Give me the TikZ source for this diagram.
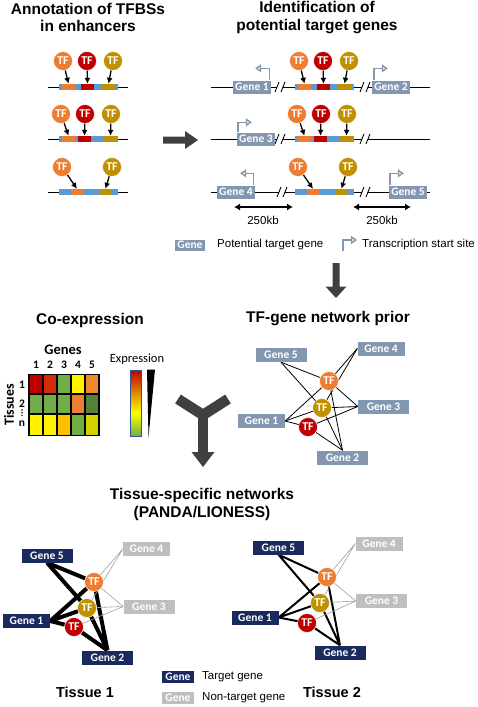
\documentclass[tikz,border=0pt]{standalone}
\usepackage{fontspec}
\setmainfont{Liberation Sans}
\newfontfamily\calibri{Carlito}
\usetikzlibrary{arrows.meta,backgrounds}

\definecolor{tforange}{HTML}{ED7D31}
\definecolor{tfred}{HTML}{C00000}
\definecolor{tfgold}{HTML}{BF9000}
\definecolor{enhblue}{HTML}{5B9BD5}
\definecolor{geneslate}{HTML}{8497B0}
\definecolor{genenavy}{HTML}{1A2A5E}
\definecolor{genegray}{HTML}{BFBFBF}
\definecolor{fatgray}{HTML}{404040}
\definecolor{hmred}{HTML}{D42A0C}
\definecolor{hmgreen}{HTML}{70AD47}
\definecolor{hmdkgreen}{HTML}{548235}
\definecolor{hmamber}{HTML}{FFC000}
\definecolor{hmolive}{HTML}{D2D200}
\definecolor{barblue}{HTML}{2F5597}

\begin{document}
\begin{tikzpicture}[x=1pt,y=-1pt,
  heading/.style={font=\bfseries\fontsize{15.5}{17.5}\selectfont,align=center},
  txt/.style={font=\fontsize{11.5}{13}\selectfont},
  cal/.style={font=\calibri\bfseries\fontsize{11.5}{12}\selectfont},
  tf/.style={circle,minimum size=19pt,inner sep=0pt,draw=white,line width=0.5pt,text=white,font=\calibri\bfseries\fontsize{12}{12}\selectfont},
  seg/.style={rectangle,minimum width=13pt,minimum height=6pt,inner sep=0pt},
  enh/.style={seg,fill=enhblue,minimum width=59pt},
  gene/.style={rectangle,fill=geneslate,text=white,inner sep=0pt,minimum width=38pt,minimum height=13pt,font=\calibri\bfseries\fontsize{11.5}{11.5}\selectfont},
  netgene/.style={gene,minimum width=51pt,minimum height=14pt},
  bind/.style={-{Latex[length=6pt,width=6pt]},line width=1.3pt},
  tss/.style={draw=geneslate,line width=1.4pt,-{Triangle[open,length=6pt,width=8pt]}},
  kbarrow/.style={{Latex[length=6pt,width=7pt]}-{Latex[length=6pt,width=7pt]},line width=1.3pt},
  fat/.style={fill=fatgray},
  brk/.pic={\fill [white] (-3,-2) rectangle (3,2); \draw [line width=0.9pt] (-5,5) -- (-1,-5) (1,5) -- (5,-5);},
  pedge/.style={line width=0.8pt},
  aedge/.style={line width=4pt},
  bedge/.style={line width=2pt},
  weakedge/.style={draw=gray!75,line width=0.6pt}
]
\useasboundingbox (0,0) rectangle (478,707);

% annotation of TFBSs
\node [heading] (h1) at (88,17.5) {Annotation of TFBSs\\in enhancers};
\draw (48,87) -- (128,87);
\node [enh] (le1) at (88.5,87) {};
\node [seg,fill=tforange] (le1o) at (68.5,87) {};
\node [seg,fill=tfred] (le1r) at (87.5,87) {};
\node [seg,fill=tfgold] (le1g) at (108.5,87) {};
\node [tf,fill=tforange] (lt1o) at (63,61) {TF};
\node [tf,fill=tfred] (lt1r) at (87,61) {TF};
\node [tf,fill=tfgold] (lt1g) at (113,61) {TF};
\draw [bind] (lt1o) -- (le1o.north);
\draw [bind] (lt1r) -- (le1r.north);
\draw [bind] (lt1g) -- (le1g.north);

\draw (48,139) -- (128,139);
\node [enh] (le2) at (88.5,139) {};
\node [seg,fill=tforange] (le2o) at (68.5,139) {};
\node [seg,fill=tfred] (le2r) at (84.5,139) {};
\node [seg,fill=tfgold] (le2g) at (110.5,139) {};
\node [tf,fill=tforange] (lt2o) at (61,114) {TF};
\node [tf,fill=tfred] (lt2r) at (85,114) {TF};
\node [tf,fill=tfgold] (lt2g) at (111,114) {TF};
\draw [bind] (lt2o) -- (le2o.north);
\draw [bind] (lt2r) -- (le2r.north);
\draw [bind] (lt2g) -- (le2g.north);

\draw (48,192) -- (128,192);
\node [enh] (le3) at (88.5,192) {};
\node [seg,fill=tforange,minimum width=12pt] (le3o) at (77,192) {};
\node [seg,fill=tfgold] (le3g) at (105.5,192) {};
\node [tf,fill=tforange] (lt3o) at (62,167) {TF};
\node [tf,fill=tfgold] (lt3g) at (112,167) {TF};
\draw [bind] (lt3o) -- (le3o.north);
\draw [bind] (lt3g) -- (le3g.north);

\fill [fat] (163,136.5) -- (185,136.5) -- (185,131) -- (198,140) -- (185,149) -- (185,143.5) -- (163,143.5) -- cycle;

% identification of target genes
\node [heading] (h2) at (317,17.5) {Identification of\\potential target genes};
\draw (211,87) -- (430,87);
\pic at (280,87) {brk};
\pic at (365,87) {brk};
\node [enh] (re1) at (324.5,87) {};
\node [seg,fill=tforange] (re1o) at (304.5,87) {};
\node [seg,fill=tfred] (re1r) at (323.5,87) {};
\node [seg,fill=tfgold] (re1g) at (344.5,87) {};
\node [tf,fill=tforange] (rt1o) at (299,61) {TF};
\node [tf,fill=tfred] (rt1r) at (323,61) {TF};
\node [tf,fill=tfgold] (rt1g) at (349,61) {TF};
\draw [bind] (rt1o) -- (re1o.north);
\draw [bind] (rt1r) -- (re1r.north);
\draw [bind] (rt1g) -- (re1g.north);
\node [gene] (g1) at (252,87) {Gene 1};
\node [gene] (g2) at (391,87) {Gene 2};
\draw [tss] ([xshift=-2pt]g1.north east) -- ++(0,-12) -- ++(-14,0);
\draw [tss] ([xshift=2pt]g2.north west) -- ++(0,-12) -- ++(14,0);

\draw (211,139) -- (430,139);
\pic at (280,139) {brk};
\pic at (365,139) {brk};
\node [enh] (re2) at (324.5,139) {};
\node [seg,fill=tforange] (re2o) at (304.5,139) {};
\node [seg,fill=tfred] (re2r) at (320.5,139) {};
\node [seg,fill=tfgold] (re2g) at (346.5,139) {};
\node [tf,fill=tforange] (rt2o) at (297,114) {TF};
\node [tf,fill=tfred] (rt2r) at (321,114) {TF};
\node [tf,fill=tfgold] (rt2g) at (347,114) {TF};
\draw [bind] (rt2o) -- (re2o.north);
\draw [bind] (rt2r) -- (re2r.north);
\draw [bind] (rt2g) -- (re2g.north);
\node [gene] (g3) at (256,139) {Gene 3};
\draw [tss] ([xshift=1pt]g3.north west) -- ++(0,-10) -- ++(14,0);

\draw (211,192) -- (430,192);
\pic at (282,192) {brk};
\pic at (365,192) {brk};
\node [enh] (re3) at (324.5,192) {};
\node [seg,fill=tforange,minimum width=12pt] (re3o) at (313,192) {};
\node [seg,fill=tfgold] (re3g) at (341.5,192) {};
\node [tf,fill=tforange] (rt3o) at (298,167) {TF};
\node [tf,fill=tfgold] (rt3g) at (348,167) {TF};
\draw [bind] (rt3o) -- (re3o.north);
\draw [bind] (rt3g) -- (re3g.north);
\node [gene] (g4) at (236,192) {Gene 4};
\node [gene] (g5) at (408,192) {Gene 5};
\draw [tss] ([xshift=-2pt]g4.north east) -- ++(0,-12) -- ++(-13,0);
\draw [tss] ([xshift=1pt]g5.north west) -- ++(0,-12) -- ++(14,0);

\coordinate (k1a) at (234,207);
\coordinate (k1b) at (293,207);
\coordinate (k2a) at (353,207);
\coordinate (k2b) at (411,207);
\draw [kbarrow] (k1a) -- (k1b);
\draw [kbarrow] (k2a) -- (k2b);
\node [txt] (kb1) at (263,220) {250kb};
\node [txt] (kb2) at (382,220) {250kb};

\node [gene,minimum width=30pt,minimum height=11pt] (lg) at (190,245) {Gene};
\node [txt,anchor=west,inner sep=0pt] (lgt) at (217,245) {Potential target gene};
\draw [tss] (343,251) -- (343,240) -- (357,240);
\node [txt,anchor=west,inner sep=0pt] (lst) at (362,245) {Transcription start site};

\fill [fat] (332.5,263) -- (339.5,263) -- (339.5,286.5) -- (346.5,286.5) -- (336,298) -- (325.5,286.5) -- (332.5,286.5) -- cycle;

% co-expression
\node [heading] (h3) at (90,320) {Co-expression};
\node [cal,font=\calibri\bfseries\fontsize{14.5}{15}\selectfont] (gn) at (63,350) {Genes};
\node [cal] (c1) at (36,365) {1};
\node [cal] (c2) at (50,365) {2};
\node [cal] (c3) at (64,365) {3};
\node [cal] (c4) at (78,365) {4};
\node [cal] (c5) at (92,365) {5};
\node [cal,inner sep=0pt] (r1) at (22,385) {1};
\node [cal,inner sep=0pt] (r2) at (22,403.5) {2};
\fill (22,410) circle (0.8) (22,412.7) circle (0.8) (22,415.4) circle (0.8);
\node [cal,inner sep=0pt] (rn) at (22,424) {n};
\node [cal,rotate=90,inner sep=0pt,font=\calibri\bfseries\fontsize{14}{14}\selectfont] (tis) at (9,405) {Tissues};
\fill (28.25,374) rectangle (99.75,436);
\fill [tfred] (29.75,374.75) rectangle (42.25,393.25);
\fill [hmred] (43.75,374.75) rectangle (56.25,393.25);
\fill [hmgreen] (57.75,374.75) rectangle (70.25,393.25);
\fill [yellow] (71.75,374.75) rectangle (84.25,393.25);
\fill [tforange!90!yellow] (85.75,374.75) rectangle (98.25,393.25);
\fill [hmgreen] (29.75,394.75) rectangle (42.25,412.5);
\fill [hmgreen] (43.75,394.75) rectangle (56.25,412.5);
\fill [hmgreen] (57.75,394.75) rectangle (70.25,412.5);
\fill [tforange] (71.75,394.75) rectangle (84.25,412.5);
\fill [hmdkgreen] (85.75,394.75) rectangle (98.25,412.5);
\fill [yellow] (29.75,415) rectangle (42.25,435.25);
\fill [yellow] (43.75,415) rectangle (56.25,435.25);
\fill [hmamber] (57.75,415) rectangle (70.25,435.25);
\fill [hmgreen] (71.75,415) rectangle (84.25,435.25);
\fill [hmolive] (85.75,415) rectangle (98.25,435.25);

\node [font=\calibri\fontsize{12.5}{13}\selectfont] (ex) at (137,359) {Expression};
\shade [top color=tfred,middle color=tforange,bottom color=yellow] (130,370) rectangle (141,413);
\shade [top color=yellow,bottom color=hmgreen] (130,413) rectangle (141,436);
\draw [barblue,line width=1pt] (130,370) rectangle (141,436);
\fill (147,369.5) -- (155,369.5) -- (148.5,437) -- cycle;

\draw [fatgray,line width=10.5pt] (178,399) -- (203,415) -- (228,399);
\draw [fatgray,line width=10.5pt] (203,412) -- (203,453);
\fill [fat] (191.5,452) -- (214.5,452) -- (203,467) -- cycle;

% TF-gene network prior
\node [heading] (h4) at (328,319) {TF-gene network prior};
\node [netgene] (p5) at (281,355) {Gene 5};
\node [netgene,minimum width=47pt] (p4) at (381,348.5) {Gene 4};
\node [netgene] (p3) at (383.5,406.5) {Gene 3};
\node [netgene,minimum width=47pt] (p1) at (261.5,421) {Gene 1};
\node [netgene] (p2) at (342.5,457.5) {Gene 2};
\node [tf,fill=tforange] (po) at (329,381) {TF};
\node [tf,fill=tfgold] (pg) at (322,408) {TF};
\node [tf,fill=tfred] (pr) at (308,427) {TF};
\begin{scope}[on background layer]
  \draw [pedge] (po.center) -- (p5.south) (po.center) -- (p4.west) (po.center) -- (p3.west) (po.center) -- (p1.east) (po.center) -- (p2.north);
  \draw [pedge] (pg.center) -- (p5.south) (pg.center) -- (p4.west) (pg.center) -- (p3.west) (pg.center) -- (p1.east) (pg.center) -- (p2.north);
  \draw [pedge] (pr.center) -- (p3.west) (pr.center) -- (p1.east) (pr.center) -- (p2.north);
\end{scope}

% tissue-specific networks
\node [heading] (h5) at (202,504.5) {Tissue-specific networks\\(PANDA/LIONESS)};

\node [netgene,fill=genenavy] (a5) at (47,555.5) {Gene 5};
\node [netgene,fill=genegray,minimum width=47pt] (a4) at (146.5,549) {Gene 4};
\node [netgene,fill=genegray] (a3) at (149,606.5) {Gene 3};
\node [netgene,fill=genenavy,minimum width=47pt] (a1) at (26.5,621) {Gene 1};
\node [netgene,fill=genenavy] (a2) at (107.5,657.5) {Gene 2};
\node [tf,fill=tforange] (ao) at (94,582) {TF};
\node [tf,fill=tfgold] (ag) at (87,608) {TF};
\node [tf,fill=tfred] (ar) at (74,627) {TF};
\begin{scope}[on background layer]
  \draw [aedge] (ao.center) -- (a5.south) (ag.center) -- (a5.south) (ao.center) -- (a1.east) (ag.center) -- (a1.east) (ar.center) -- (a1.east) (ao.center) -- (a2.north) (ag.center) -- (a2.north) (ar.center) -- (a2.north);
  \draw [weakedge] (ao.center) -- (a4.west) (ag.center) -- (a4.west) (ao.center) -- (a3.west) (ag.center) -- (a3.west) (ar.center) -- (a3.west);
\end{scope}
\node [heading,font=\bfseries\fontsize{14.5}{16}\selectfont] (ts1) at (85,692) {Tissue 1};

\node [netgene,fill=genenavy] (b5) at (278.5,547.5) {Gene 5};
\node [netgene,fill=genegray,minimum width=47pt] (b4) at (379,543.5) {Gene 4};
\node [netgene,fill=genegray] (b3) at (381.5,601) {Gene 3};
\node [netgene,fill=genenavy,minimum width=47pt] (b1) at (255,617.5) {Gene 1};
\node [netgene,fill=genenavy] (b2) at (340,652.5) {Gene 2};
\node [tf,fill=tforange] (bo) at (327,577) {TF};
\node [tf,fill=tfgold] (bg) at (320,603) {TF};
\node [tf,fill=tfred] (br) at (307,623) {TF};
\begin{scope}[on background layer]
  \draw [bedge] (bo.center) -- (b5.south) (bg.center) -- (b5.south) (bo.center) -- (b1.east) (bg.center) -- (b1.east) (br.center) -- (b1.east) (bo.center) -- (b2.north) (bg.center) -- (b2.north) (br.center) -- (b2.north);
  \draw [weakedge] (bo.center) -- (b4.west) (bg.center) -- (b4.west) (bo.center) -- (b3.west) (bg.center) -- (b3.west) (br.center) -- (b3.west);
\end{scope}
\node [heading,font=\bfseries\fontsize{14.5}{16}\selectfont] (ts2) at (332,692) {Tissue 2};

\node [gene,fill=genenavy,minimum width=32pt,minimum height=12pt] (lt) at (178,677) {Gene};
\node [txt,anchor=west,inner sep=0pt] (ltt) at (202,677) {Target gene};
\node [gene,fill=genegray,minimum width=32pt,minimum height=12pt] (ln) at (178,698) {Gene};
\node [txt,anchor=west,inner sep=0pt] (lnt) at (202,698) {Non-target gene};

\end{tikzpicture}
\end{document}
